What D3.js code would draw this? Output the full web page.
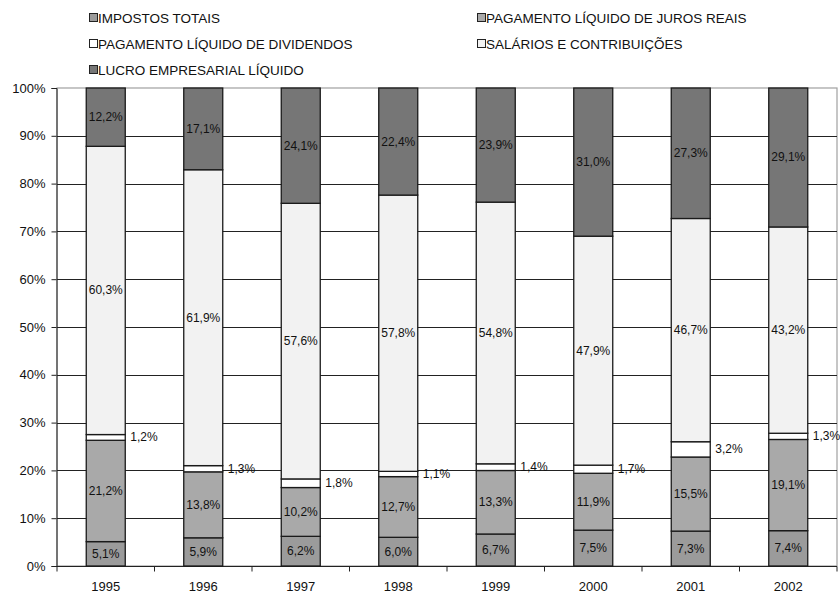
<!DOCTYPE html>
<html>
<head>
<meta charset="utf-8">
<script src="https://cdn.jsdelivr.net/npm/d3@7"></script>
<style>
  body { margin: 0; background: #fff; }
  svg text { font-family: "Liberation Sans", Arial, sans-serif; fill: #111; }
</style>
</head>
<body>
<svg id="chart" width="840" height="594"></svg>
<script>
const years = ["1995", "1996", "1997", "1998", "1999", "2000", "2001", "2002"];
const seriesNames = [
    "IMPOSTOS TOTAIS",
    "PAGAMENTO LÍQUIDO DE JUROS REAIS",
    "PAGAMENTO LÍQUIDO DE DIVIDENDOS",
    "SALÁRIOS E CONTRIBUIÇÕES",
    "LUCRO EMPRESARIAL LÍQUIDO"
];
const impostos   = [5.1, 5.9, 6.2, 6.0, 6.7, 7.5, 7.3, 7.4];
const juros      = [21.2, 13.8, 10.2, 12.7, 13.3, 11.9, 15.5, 19.1];
const dividendos = [1.2, 1.3, 1.8, 1.1, 1.4, 1.7, 3.2, 1.3];
const salarios   = [60.3, 61.9, 57.6, 57.8, 54.8, 47.9, 46.7, 43.2];
const lucro      = [12.2, 17.1, 24.1, 22.4, 23.9, 31.0, 27.3, 29.1];
const yTicks = [0, 0.1, 0.2, 0.3, 0.4, 0.5, 0.6, 0.7, 0.8, 0.9, 1];

const colors = ["#9b9b9b", "#a9a9a9", "#ffffff", "#f2f2f2", "#767676"];

const margin = { top: 88, right: 3, bottom: 28, left: 57 };
const width = 840 - margin.left - margin.right;
const height = 594 - margin.top - margin.bottom;

const seriesValues = [impostos, juros, dividendos, salarios, lucro];
const rows = years.map((y, i) => {
    const r = { year: y };
    seriesNames.forEach((s, k) => { r[s] = seriesValues[k][i]; });
    return r;
});

const stack = d3.stack().keys(seriesNames).offset(d3.stackOffsetExpand);
const stacked = stack(rows);

const svg = d3.select("#chart");
const g = svg.append("g").attr("transform", `translate(${margin.left},${margin.top})`);

const x = d3.scaleBand()
    .domain(years)
    .range([0, width])
    .paddingInner(0.6)
    .paddingOuter(0.3);

const y = d3.scaleLinear().domain([0, 1]).range([height, 0]);

// plot border (light gray)
g.append("rect")
    .attr("x", 0).attr("y", 0)
    .attr("width", width).attr("height", height)
    .attr("fill", "none")
    .attr("stroke", "#a0a0a0")
    .attr("stroke-width", 1.2);

// gridlines
g.append("g")
    .selectAll("line")
    .data(yTicks.filter(t => t > 0 && t < 1))
    .join("line")
    .attr("x1", 0).attr("x2", width)
    .attr("y1", d => Math.round(y(d)) + 0.5).attr("y2", d => Math.round(y(d)) + 0.5)
    .attr("stroke", "#222")
    .attr("stroke-width", 1);

// y axis
const yAxis = g.append("g")
    .attr("transform", "translate(-0.5,0)")
    .call(d3.axisLeft(y).tickValues(yTicks).tickFormat(d3.format(".0%")).tickSize(5).tickPadding(6));
yAxis.selectAll("text").style("font-size", "13px");
yAxis.selectAll("line, path").attr("stroke", "#222");

// x axis with ticks between categories
const xAxis = g.append("g").attr("transform", `translate(0,${height + 0.5})`);
xAxis.append("line")
    .attr("x1", 0).attr("x2", width)
    .attr("stroke", "#222");
xAxis.selectAll(".sep")
    .data(d3.range(years.length + 1))
    .join("line")
    .attr("class", "sep")
    .attr("x1", i => i * x.step()).attr("x2", i => i * x.step())
    .attr("y1", 0).attr("y2", 5)
    .attr("stroke", "#222");
xAxis.selectAll(".yr")
    .data(years)
    .join("text")
    .attr("class", "yr")
    .attr("x", d => x(d) + x.bandwidth() / 2)
    .attr("y", 24)
    .attr("text-anchor", "middle")
    .style("font-size", "13px")
    .text(d => d);

// bars
const layers = g.selectAll(".layer")
    .data(stacked)
    .join("g")
    .attr("class", "layer")
    .attr("fill", (d, i) => colors[i]);

layers.selectAll("rect")
    .data(d => d)
    .join("rect")
    .attr("x", d => x(d.data.year))
    .attr("y", d => y(d[1]))
    .attr("width", x.bandwidth())
    .attr("height", d => y(d[0]) - y(d[1]))
    .attr("stroke", "#1a1a1a")
    .attr("stroke-width", 1.3);

// labels
const fmt = v => v.toFixed(1).replace(".", ",") + "%";
stacked.forEach((layer, k) => {
    g.append("g").selectAll("text")
        .data(layer)
        .join("text")
        .attr("x", d => k === 2 ? x(d.data.year) + x.bandwidth() + 5 : x(d.data.year) + x.bandwidth() / 2)
        .attr("y", d => y((d[0] + d[1]) / 2) + 4)
        .attr("text-anchor", k === 2 ? "start" : "middle")
        .style("font-size", "12px")
        .text(d => fmt(d.data[seriesNames[k]]));
});

// legend
const legendPos = [
    { x: 89, y: 18 }, { x: 477, y: 18 },
    { x: 89, y: 44 }, { x: 477, y: 44 },
    { x: 89, y: 70 }
];
const legend = svg.append("g")
    .selectAll("g")
    .data(seriesNames)
    .join("g")
    .attr("transform", (d, i) => `translate(${legendPos[i].x},${legendPos[i].y})`);
legend.append("rect")
    .attr("x", 0.5).attr("y", -4.5)
    .attr("width", 8).attr("height", 8)
    .attr("fill", (d, i) => colors[i])
    .attr("stroke", "#222");
legend.append("text")
    .attr("x", 9)
    .attr("y", 5)
    .style("font-size", "13.5px")
    .text(d => d);
</script>
</body>
</html>
